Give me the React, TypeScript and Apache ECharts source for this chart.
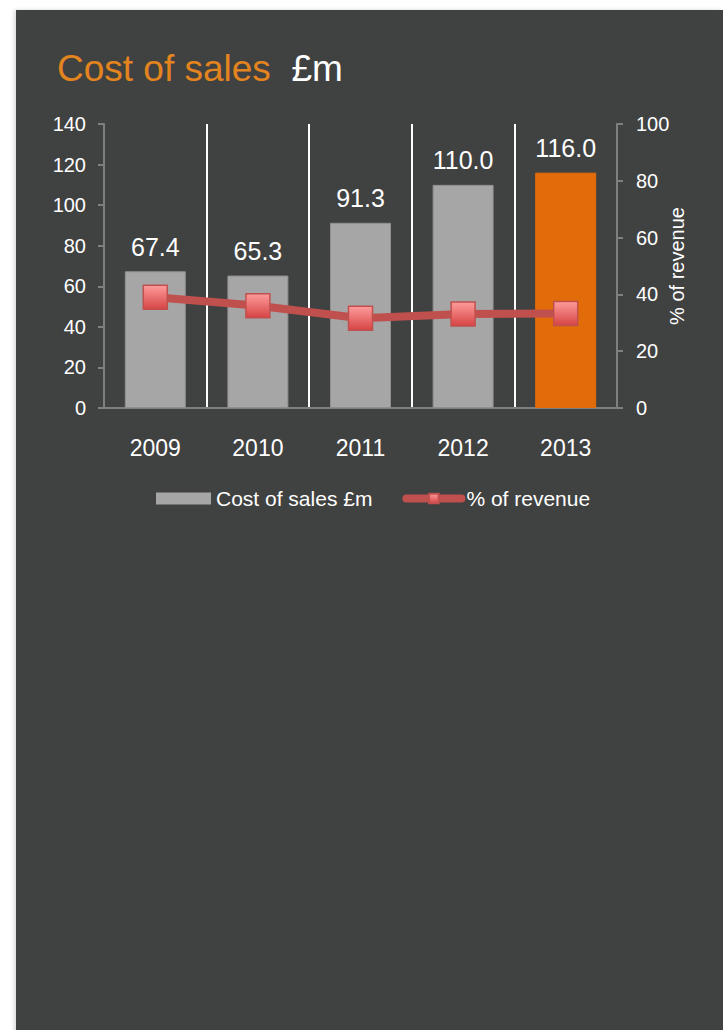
import React, { useEffect, useRef } from "react";
import * as echarts from "echarts";

const years = ["2009", "2010", "2011", "2012", "2013"];
const costOfSales = [67.4, 65.3, 91.3, 110.0, 116.0];
const pctOfRevenue = [39.0, 36.0, 31.6, 33.1, 33.3];
const leftTicks = { min: 0, max: 140, interval: 20 };
const rightTicks = { min: 0, max: 100, interval: 20 };

const FONT = "'Liberation Sans', Arial, sans-serif";

export default function App() {
  const ref = useRef<HTMLDivElement>(null);

  useEffect(() => {
    if (!ref.current) return;
    const chart = echarts.init(ref.current, null, { renderer: "svg" });
    const markerColor = new echarts.graphic.LinearGradient(0, 0, 0, 1, [
      { offset: 0, color: "#ff9c9c" },
      { offset: 1, color: "#d64444" },
    ]);
    chart.setOption({
      animation: false,
      textStyle: { fontFamily: FONT },
      title: {
        left: 57,
        top: 50,
        padding: 0,
        text: "{a|Cost of sales  }{b|£m}",
        textStyle: {
          fontWeight: "normal",
          rich: {
            a: { fontSize: 37, color: "#e3841f", fontFamily: FONT, fontWeight: "normal" },
            b: { fontSize: 37, color: "#ffffff", fontFamily: FONT, fontWeight: "normal" },
          },
        },
      },
      legend: {
        left: 156,
        top: 488,
        padding: 0,
        itemWidth: 55,
        itemHeight: 12,
        itemGap: 30,
        textStyle: { color: "#ffffff", fontSize: 21, fontFamily: FONT },
        data: [
          { name: "Cost of sales £m", icon: "rect", itemStyle: { borderWidth: 0 } },
          { name: "% of revenue", lineStyle: { width: 8, color: "#c0504d", cap: "round" } },
        ],
      },
      grid: { left: 104, right: 106, top: 124, bottom: 622, containLabel: false },
      xAxis: {
        type: "category",
        data: years,
        axisLine: { show: true, lineStyle: { color: "#7f7f7f", width: 2 } },
        axisTick: { show: false },
        axisLabel: { color: "#ffffff", fontSize: 23, margin: 28, fontFamily: FONT },
        splitLine: {
          show: true,
          showMinLine: false,
          showMaxLine: false,
          lineStyle: { color: "#ffffff", width: 2 },
        },
      },
      yAxis: [
        {
          type: "value",
          ...leftTicks,
          axisLine: { show: true, lineStyle: { color: "#7f7f7f", width: 2 } },
          axisTick: { show: true, length: 6, lineStyle: { color: "#7f7f7f", width: 2 } },
          axisLabel: { color: "#ffffff", fontSize: 20, margin: 18, fontFamily: FONT },
          splitLine: { show: false },
        },
        {
          type: "value",
          position: "right",
          ...rightTicks,
          name: "% of revenue",
          nameLocation: "middle",
          nameRotate: 90,
          nameGap: 50,
          nameMoveOverlap: false,
          nameTextStyle: { color: "#ffffff", fontSize: 20, fontFamily: FONT },
          axisLine: { show: true, lineStyle: { color: "#7f7f7f", width: 2 } },
          axisTick: { show: true, length: 6, lineStyle: { color: "#7f7f7f", width: 2 } },
          axisLabel: { color: "#ffffff", fontSize: 20, margin: 19, fontFamily: FONT },
          splitLine: { show: false },
        },
      ],
      series: [
        {
          name: "Cost of sales £m",
          type: "bar",
          barWidth: 61,
          itemStyle: { color: "#a6a6a6", borderColor: "#8f8f8f", borderWidth: 1 },
          label: {
            show: true,
            position: "top",
            distance: 12,
            color: "#ffffff",
            fontSize: 25,
            fontFamily: FONT,
            formatter: (p: any) => Number(p.value).toFixed(1),
          },
          data: costOfSales.map((v, i) =>
            i === costOfSales.length - 1
              ? { value: v, itemStyle: { color: "#e36c0a", borderColor: "#e36c0a" } }
              : v
          ),
        },
        {
          name: "% of revenue",
          type: "line",
          yAxisIndex: 1,
          symbol: "rect",
          symbolSize: 24,
          lineStyle: { color: "#c0504d", width: 8, cap: "round" },
          itemStyle: { color: markerColor, borderColor: "#c0504d", borderWidth: 1.5 },
          data: pctOfRevenue,
          z: 5,
        },
      ],
    });
    return () => chart.dispose();
  }, []);

  return (
    <div style={{ position: "fixed", left: 0, top: 0, width: 723, height: 1030, background: "#ffffff", overflow: "hidden" }}>
      <div
        style={{
          position: "absolute",
          left: 16,
          top: 10,
          width: 707,
          height: 1030,
          background: "#404141",
          boxShadow: "-2px 0 4px rgba(0,0,0,0.15)",
        }}
      />
      <div ref={ref} style={{ position: "absolute", left: 0, top: 0, width: 723, height: 1030 }} />
    </div>
  );
}
